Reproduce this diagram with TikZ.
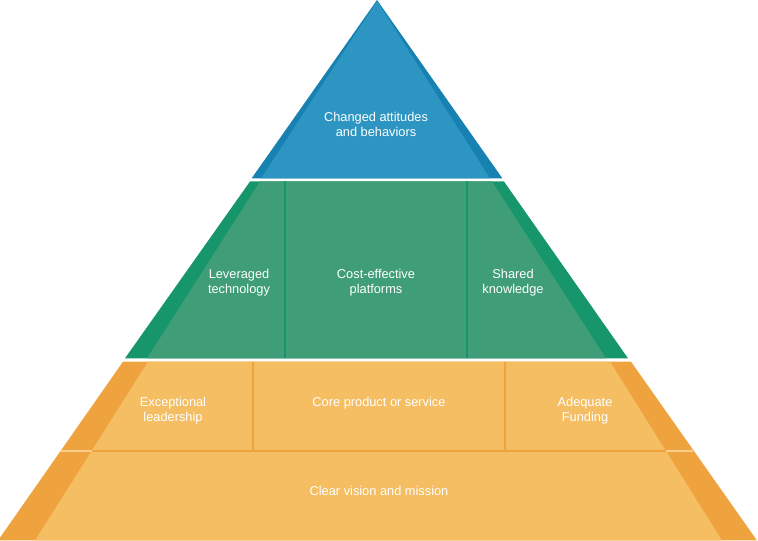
\documentclass[tikz,border=0pt]{standalone}
\usepackage{fontspec}
\setmainfont{Liberation Sans}
\usetikzlibrary{positioning}
\definecolor{blueL}{HTML}{2D95C1}
\definecolor{blueD}{HTML}{1782B1}
\definecolor{greenL}{HTML}{3F9E77}
\definecolor{greenD}{HTML}{16966A}
\definecolor{orangeL}{HTML}{F5BE63}
\definecolor{orangeD}{HTML}{EEA33F}

\begin{document}
\begin{tikzpicture}[x=0.75pt, y=-0.75pt,
  lbl/.style={text=white, font=\fontsize{9.6}{11.3}\selectfont, align=center, inner sep=0pt},
  sep/.style={line width=1.9pt}]
\useasboundingbox (0,0) rectangle (758,541);
\clip (0,0) rectangle (758,541);
% top
\fill[blueD] (377,0) -- (251.5,178.5) -- (502.5,178.5) -- cycle;
\fill[blueL] (377,1) -- (261,178.5) -- (490,178.5) -- cycle;
% middle
\fill[greenD] (250,181.5) -- (504,181.5) -- (628,358.3) -- (125,358.3) -- cycle;
\fill[greenL] (260,181.5) -- (492,181.5) -- (606,358.3) -- (147,358.3) -- cycle;
\draw[sep, greenD] (285,181.5) -- (285,358.3);
\draw[sep, greenD] (467,181.5) -- (467,358.3);
% bottom
\fill[orangeD] (123,361.7) -- (631,361.7) -- (757,540.5) -- (-2,540.5) -- cycle;
\fill[orangeL] (148,361.7) -- (610,361.7) -- (722,540.5) -- (35,540.5) -- cycle;
\draw[sep, orangeL!75!white] (61,451) -- (693,451);
\draw[sep, orangeD] (91.5,451) -- (666,451);
\draw[sep, orangeD] (253,361.7) -- (253,451);
\draw[sep, orangeD] (505,361.7) -- (505,451);

\node[lbl] (attitudes) at (376,124) {Changed attitudes\\and behaviors};
\node[lbl] (technology) at (239,283) {Leveraged\\technology};
\node[lbl] (platforms) at (376,283) {Cost-effective\\platforms};
\node[lbl] (knowledge) at (513,283) {Shared\\knowledge};
\node[lbl] (leadership) at (173,410.5) {Exceptional\\leadership};
\node[lbl] (core) at (379,403) {Core product or service};
\node[lbl] (funding) at (585,410.5) {Adequate\\Funding};
\node[lbl] (vision) at (379,491) {Clear vision and mission};
\end{tikzpicture}
\end{document}
